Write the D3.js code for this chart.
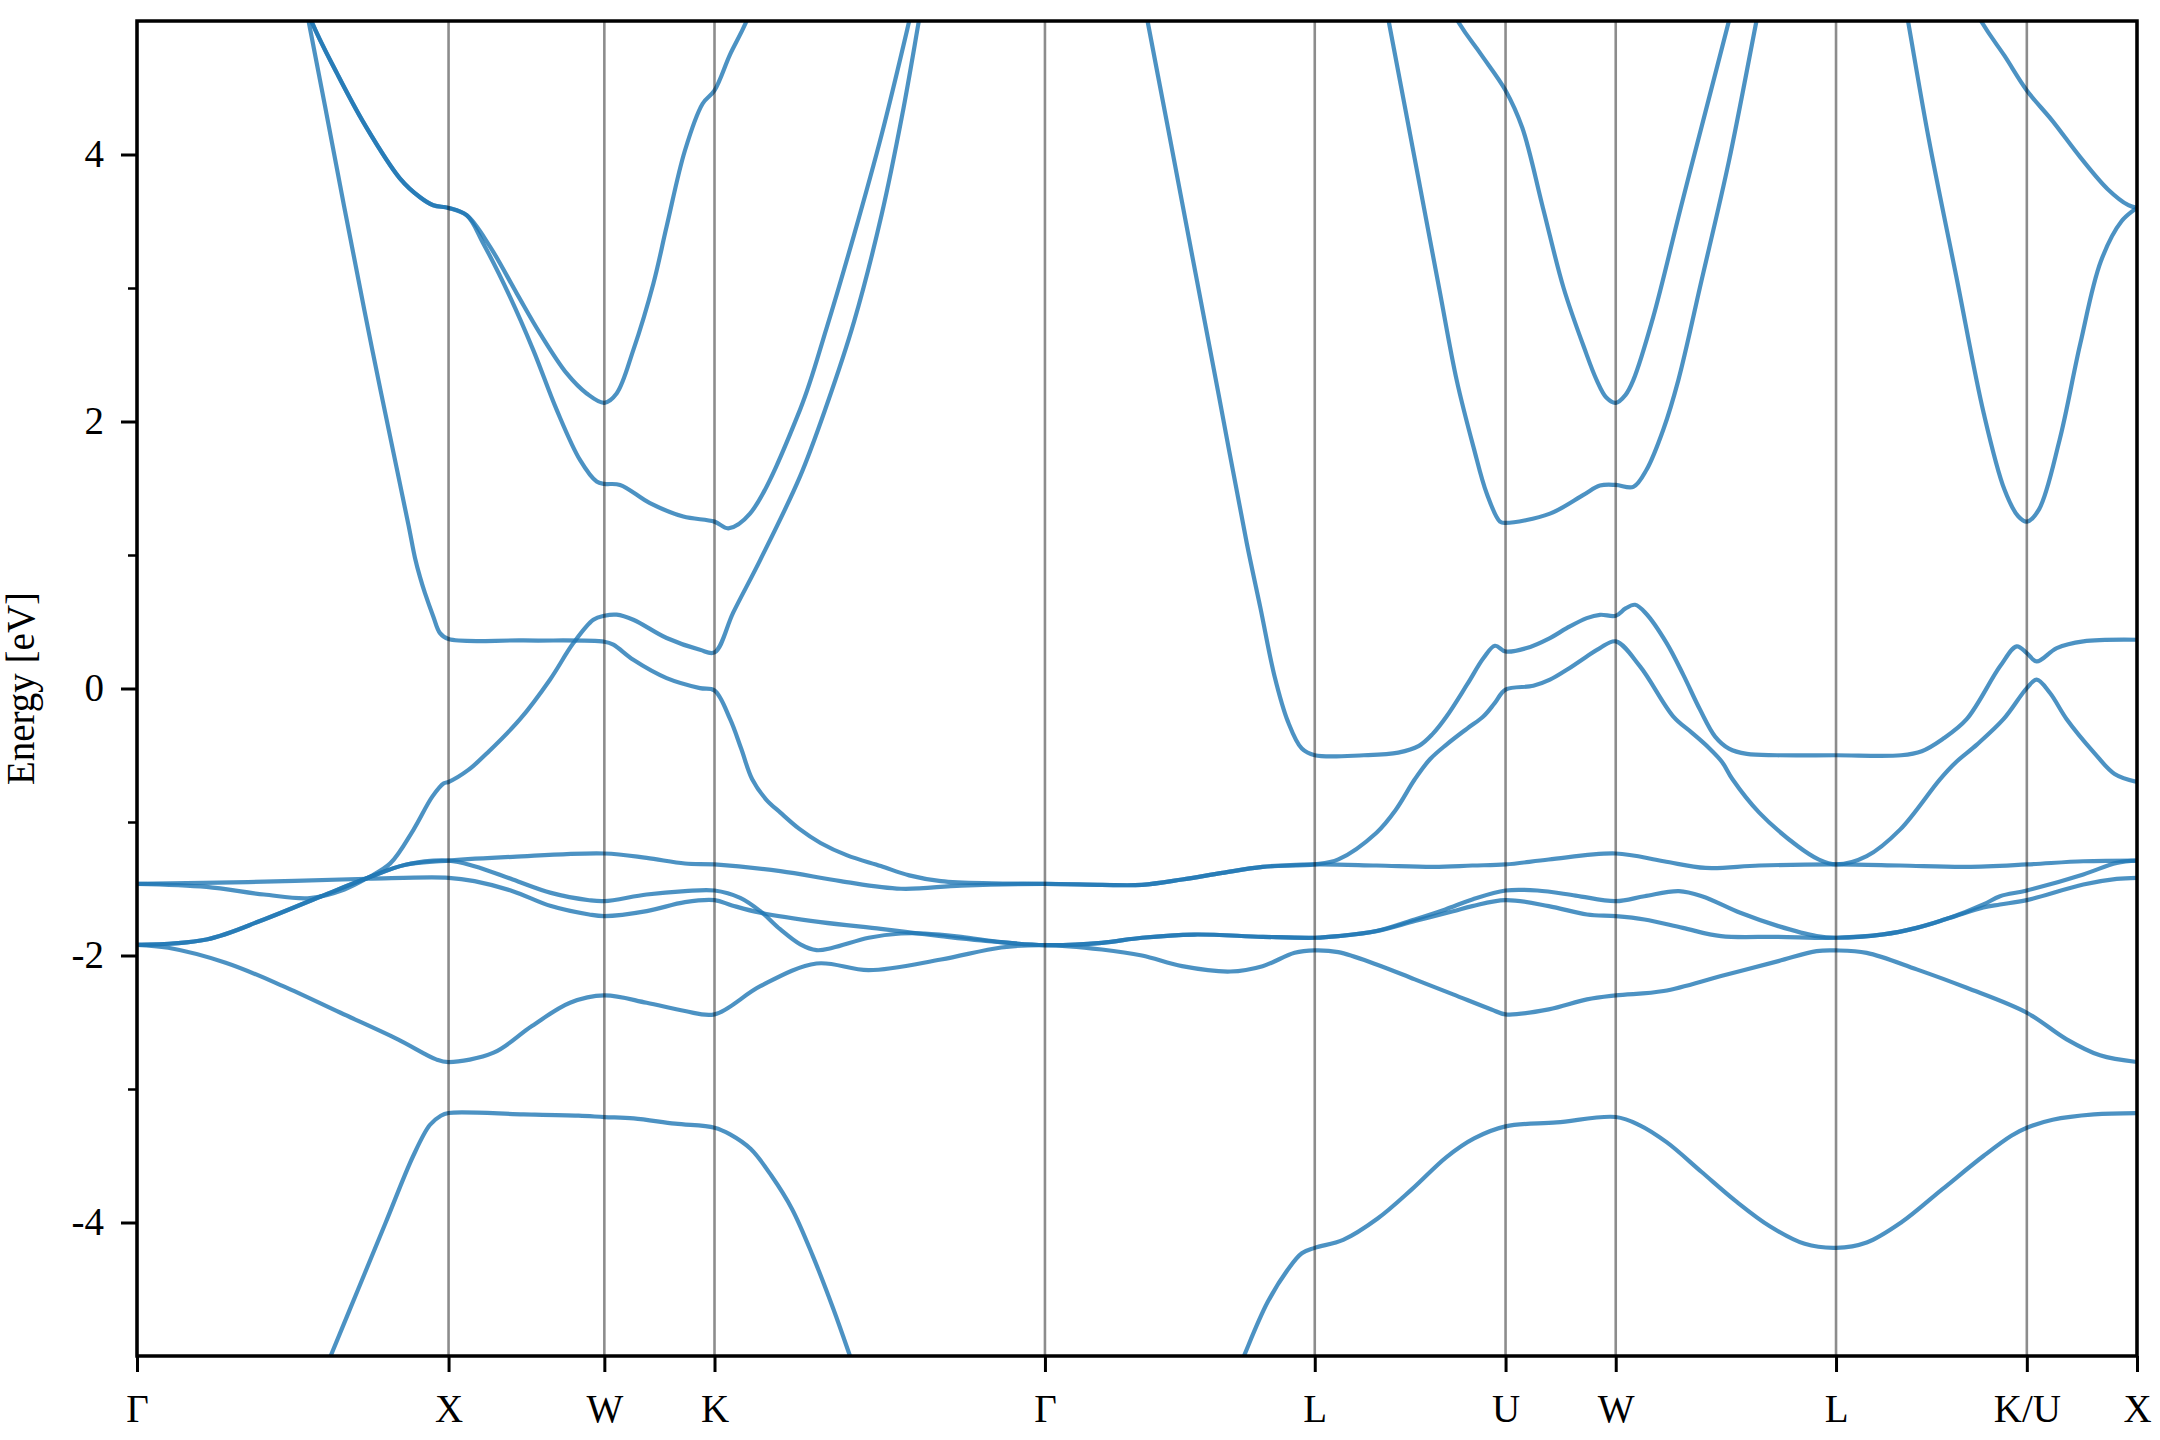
<!DOCTYPE html>
<html><head><meta charset="utf-8">
<script src="https://cdn.jsdelivr.net/npm/d3@7"></script>
<style>body{margin:0;background:#fff}</style>
</head><body>
<svg id="chart" width="2160" height="1440"></svg>
<script>
// High-symmetry points along the FCC k-path (units of 2π/a)
const kTicks = [0, 1.0, 1.5, 1.8536, 2.9142, 3.7802, 4.3926, 4.7462, 5.4533, 6.0657, 6.4193];
const kLabels = ["Γ", "X", "W", "K", "Γ", "L", "U", "W", "L", "K/U", "X"];
const yMajor = [-4, -2, 0, 2, 4];
const yMajorLabels = ["-4", "-2", "0", "2", "4"];
const yMinor = [-3, -1, 1, 3];

// Bands: [k, E (eV)]
const band1 = [[0,-7.8],[0.2235,-7.2],[0.4446,-6.0],[0.6215,-5.0],[0.7099,-4.5],[0.7983,-4.0],[0.8868,-3.5],[0.9398,-3.27],[0.9752,-3.2],[1.0,-3.18],
 [1.2405,-3.19],[1.4174,-3.2],[1.5,-3.21],[1.5943,-3.22],[1.7269,-3.26],[1.8536,-3.29],
 [1.9037,-3.34],[1.9701,-3.45],[2.0364,-3.65],[2.1027,-3.9],[2.1690,-4.25],[2.2354,-4.65],[2.2884,-5.0],[2.3901,-5.7],[2.6555,-7.0],[2.9142,-7.6],
 [3.1860,-6.8],[3.4513,-5.6],[3.5530,-5.0],[3.6282,-4.6],[3.6945,-4.35],[3.7387,-4.23],[3.7802,-4.19],
 [3.8714,-4.13],[3.9820,-3.97],[4.0925,-3.75],[4.2030,-3.51],[4.2917,-3.37],[4.3926,-3.28],
 [4.5568,-3.25],[4.7462,-3.21],
 [4.8220,-3.27],[4.9105,-3.4],[5.0210,-3.62],[5.1316,-3.84],[5.2421,-4.03],[5.3527,-4.16],[5.4533,-4.19],
 [5.5517,-4.15],[5.6622,-4.0],[5.7948,-3.75],[5.9275,-3.5],[6.0159,-3.35],[6.0657,-3.29],
 [6.1485,-3.23],[6.2812,-3.19],[6.4193,-3.18]];

const band2 = [[0,-1.92],[0.1002,-1.942],[0.2845,-2.054],[0.4689,-2.229],[0.6533,-2.429],[0.8372,-2.628],[0.9602,-2.778],[1.0,-2.798],
 [1.1446,-2.728],[1.2675,-2.528],[1.3899,-2.354],[1.5,-2.299],
 [1.6358,-2.354],[1.7587,-2.416],[1.8536,-2.441],
 [2.0006,-2.23],[2.1810,-2.06],[2.3486,-2.11],[2.5807,-2.03],[2.7739,-1.94],[2.9142,-1.922],
 [3.0967,-1.955],[3.2254,-2.0],[3.3545,-2.08],[3.5093,-2.12],[3.6127,-2.08],[3.7157,-1.98],[3.7802,-1.962],
 [3.8555,-1.975],[3.9784,-2.067],[4.1013,-2.179],[4.2242,-2.291],[4.3471,-2.404],[4.3926,-2.441],
 [4.5312,-2.404],[4.6540,-2.329],[4.7462,-2.299],
 [4.8999,-2.266],[5.0842,-2.154],[5.2682,-2.042],[5.3911,-1.967],[5.4533,-1.962],
 [5.5517,-1.98],[5.7122,-2.104],[5.8726,-2.242],[6.0657,-2.429],
 [6.1936,-2.628],[6.3006,-2.748],[6.4193,-2.798]];

const band3 = [[0,-1.92],[0.2231,-1.88],[0.4075,-1.73],[0.5918,-1.556],[0.7391,-1.42],[0.8620,-1.32],[1.0,-1.289],
 [1.2060,-1.261],[1.5,-1.236],
 [1.6358,-1.269],[1.7587,-1.311],[1.8536,-1.318],
 [2.0651,-1.368],[2.2584,-1.443],[2.4520,-1.5],[2.6453,-1.476],[2.9142,-1.463],
 [3.0967,-1.471],[3.2254,-1.471],[3.3545,-1.431],[3.4836,-1.381],[3.6127,-1.336],[3.7802,-1.318],
 [3.9784,-1.326],[4.1628,-1.336],[4.2860,-1.326],[4.3926,-1.318],
 [4.5312,-1.281],[4.7462,-1.236],
 [4.8999,-1.294],[5.0347,-1.344],[5.2072,-1.326],[5.4533,-1.318],
 [5.6587,-1.326],[5.8726,-1.336],[6.0657,-1.318],
 [6.2471,-1.294],[6.4193,-1.289]];

const band4 = [[0,-1.92],[0.2231,-1.88],[0.4075,-1.73],[0.5918,-1.556],[0.7391,-1.42],[0.8620,-1.32],[1.0,-1.289],
 [1.0831,-1.331],[1.2060,-1.431],[1.3289,-1.531],[1.4514,-1.586],[1.5,-1.593],
 [1.6358,-1.543],[1.7587,-1.518],[1.8536,-1.513],
 [1.9360,-1.568],[2.0006,-1.668],[2.0651,-1.805],[2.1292,-1.917],[2.1810,-1.96],[2.2327,-1.942],[2.3486,-1.867],[2.4520,-1.835],[2.5290,-1.835],[2.6453,-1.86],[2.7739,-1.90],[2.9142,-1.922],
 [3.0967,-1.905],[3.2254,-1.867],[3.3934,-1.843],[3.6127,-1.86],[3.7802,-1.867],
 [3.8555,-1.855],[3.9784,-1.817],[4.1013,-1.73],[4.1995,-1.655],[4.2860,-1.58],[4.3926,-1.513],
 [4.4945,-1.513],[4.6174,-1.551],[4.7462,-1.593],
 [4.8384,-1.556],[4.9489,-1.518],[5.0228,-1.556],[5.1458,-1.68],[5.2682,-1.78],[5.3911,-1.855],[5.4533,-1.867],
 [5.6052,-1.842],[5.7122,-1.793],[5.8191,-1.718],[5.9262,-1.618],[5.9797,-1.556],[6.0657,-1.513],
 [6.2471,-1.393],[6.3541,-1.306],[6.4193,-1.289]];

const band5 = [[0,-1.463],[0.3562,-1.45],[0.7391,-1.425],[1.0,-1.418],
 [1.0831,-1.443],[1.2060,-1.518],[1.3289,-1.63],[1.4514,-1.693],[1.5,-1.705],
 [1.6358,-1.668],[1.7587,-1.6],[1.8536,-1.585],
 [1.9099,-1.625],[2.0006,-1.68],[2.1938,-1.75],[2.3875,-1.80],[2.4905,-1.83],[2.5807,-1.855],[2.7098,-1.887],[2.9142,-1.922],
 [3.0967,-1.905],[3.2254,-1.867],[3.3934,-1.843],[3.6127,-1.86],[3.7802,-1.867],
 [3.8555,-1.855],[3.9784,-1.817],[4.1013,-1.742],[4.2242,-1.668],[4.2860,-1.63],[4.3926,-1.585],
 [4.5312,-1.63],[4.6540,-1.693],[4.7462,-1.705],
 [4.8384,-1.73],[4.9613,-1.793],[5.0843,-1.855],[5.2682,-1.86],[5.4533,-1.867],
 [5.6052,-1.842],[5.7122,-1.793],[5.8191,-1.718],[5.9262,-1.64],[5.9797,-1.618],[6.0657,-1.585],
 [6.2471,-1.468],[6.3541,-1.426],[6.4193,-1.418]];

const band6 = [[0,-1.463],[0.2231,-1.486],[0.4075,-1.543],[0.5551,-1.57],[0.6657,-1.505],[0.7391,-1.42],[0.8129,-1.31],[0.8868,-1.06],[0.9478,-0.81],[0.9849,-0.71],[1.0,-0.70],
 [1.0636,-0.61],[1.1299,-0.47],[1.2294,-0.23],[1.3254,0.066],[1.4006,0.34],[1.4647,0.515],[1.5,0.545],
 [1.5394,0.553],[1.5929,0.515],[1.6999,0.378],[1.8069,0.29],[1.8536,0.27],
 [1.9139,0.57],[1.9997,0.96],[2.1279,1.587],[2.2133,2.12],[2.3017,2.75],[2.3901,3.55],[2.4564,4.3],[2.5095,5.0],[2.55,5.55],[2.6555,6.4],[2.9142,7.5],
 [3.1639,6.0],[3.2435,5.0],[3.3098,4.19],[3.3894,3.21],[3.4734,2.18],[3.5619,1.09],[3.6061,0.6],[3.6503,0.1],[3.6945,-0.25],[3.7387,-0.45],[3.7802,-0.5],
 [3.9377,-0.5],[4.0483,-0.48],[4.1146,-0.43],[4.1588,-0.34],[4.2030,-0.21],[4.2693,0.03],[4.3224,0.23],[4.3586,0.32],[4.3926,0.277],
 [4.4604,0.303],[4.5351,0.378],[4.5891,0.452],[4.6532,0.527],[4.6956,0.552],[4.7462,0.545],
 [4.7778,0.6],[4.8083,0.627],[4.8441,0.56],[4.9096,0.34],[4.9635,0.1],[5.0166,-0.158],[5.0652,-0.36],[5.1095,-0.45],[5.1670,-0.49],[5.2642,-0.5],[5.4533,-0.5],
 [5.6622,-0.5],[5.7285,-0.47],[5.7948,-0.38],[5.8726,-0.23],[5.9797,0.166],[6.0332,0.315],[6.0657,0.265],[6.0972,0.203],[6.1618,0.303],[6.2471,0.353],[6.4193,0.365]];

const band7 = [[0.4446,6.2],[0.5507,5.0],[0.6657,3.6],[0.7541,2.55],[0.8425,1.55],[0.8735,1.2],[0.8921,0.98],[0.9089,0.83],[0.9243,0.714],[0.9509,0.54],[0.9725,0.415],[1.0,0.37],
 [1.2405,0.36],[1.5,0.35],[1.5288,0.328],[1.5929,0.215],[1.6999,0.078],[1.8069,0.003],[1.8536,-0.015],
 [1.9037,-0.23],[1.9391,-0.45],[1.9745,-0.68],[2.0187,-0.83],[2.0651,-0.93],[2.1248,-1.05],[2.1938,-1.157],[2.2796,-1.25],[2.3875,-1.33],[2.4786,-1.4],[2.5803,-1.443],[2.7439,-1.46],[2.9142,-1.463],
 [3.0967,-1.471],[3.2254,-1.471],[3.3545,-1.431],[3.4836,-1.381],[3.6127,-1.336],[3.7802,-1.318],
 [3.8560,-1.28],[3.9784,-1.08],[4.0399,-0.91],[4.1013,-0.68],[4.1500,-0.53],[4.2030,-0.42],[4.2693,-0.3],[4.3211,-0.21],[4.3577,-0.11],[4.3926,-0.009],
 [4.4816,0.02],[4.5351,0.066],[4.5891,0.14],[4.6532,0.24],[4.6956,0.303],[4.7462,0.353],
 [4.8242,0.166],[4.9312,-0.21],[4.9901,-0.33],[5.0431,-0.44],[5.0874,-0.55],[5.1210,-0.68],[5.2068,-0.93],[5.3297,-1.18],[5.3969,-1.28],[5.4533,-1.318],
 [5.5517,-1.256],[5.6587,-1.057],[5.7869,-0.68],[5.8390,-0.55],[5.9054,-0.42],[5.9907,-0.23],[6.0657,0.003],[6.0972,0.066],[6.1401,-0.034],[6.1936,-0.23],[6.2812,-0.48],[6.3475,-0.64],[6.4193,-0.70]];

const band8 = [[0.4667,5.6],[0.5596,5.0],[0.6436,4.6],[0.7320,4.22],[0.8443,3.82],[0.9084,3.68],[0.9509,3.62],[1.0,3.6],
 [1.0583,3.545],[1.1114,3.334],[1.1972,2.934],[1.2719,2.535],[1.3471,2.087],[1.4218,1.712],[1.4753,1.55],[1.5,1.533],
 [1.5505,1.525],[1.6464,1.388],[1.7534,1.288],[1.8536,1.25],
 [1.8980,1.20],[1.9674,1.31],[2.1279,2.087],[2.2133,2.7],[2.3017,3.4],[2.3901,4.15],[2.4786,5.0],[2.6555,6.8],[2.9142,8.0],[3.5398,7.0],[3.9600,5.7],[4.0174,5.0],[4.1146,3.8],[4.1809,2.98],[4.2357,2.31],[4.2895,1.81],[4.3322,1.46],[4.3746,1.25],[4.3926,1.24],
 [4.5351,1.31],[4.6425,1.45],[4.6956,1.52],[4.7462,1.525],
 [4.8026,1.51],[4.8455,1.64],[4.8990,1.94],[4.9472,2.31],[5.0210,3.05],[5.1095,3.95],[5.1979,5.0],[5.2400,5.5],[5.4533,7.0],[5.6450,5.52],[5.6843,5.0],[5.7506,4.12],[5.8390,3.09],[5.9275,2.06],[5.9938,1.49],[6.0380,1.29],[6.0657,1.25],
 [6.1043,1.34],[6.1706,1.86],[6.2370,2.58],[6.3033,3.2],[6.3696,3.5],[6.4193,3.6]];

const band9 = [[0.4667,5.6],[0.5596,5.0],[0.6436,4.6],[0.7320,4.22],[0.8443,3.82],[0.9084,3.68],[0.9509,3.62],[1.0,3.6],
 [1.0583,3.545],[1.1330,3.31],[1.2188,2.96],[1.2935,2.66],[1.3793,2.36],[1.4434,2.21],[1.5,2.14],
 [1.5394,2.21],[1.5929,2.535],[1.6575,3.034],[1.6999,3.46],[1.7587,4.03],[1.8153,4.38],[1.8536,4.48],
 [1.9037,4.75],[1.9568,5.0],[2.2133,6.5],[2.9142,9.0],[3.7802,7.0],[4.2388,5.0],[4.3138,4.75],[4.3926,4.48],
 [4.4463,4.2],[4.5126,3.6],[4.5789,3.0],[4.6452,2.55],[4.6850,2.31],[4.7159,2.18],[4.7462,2.14],
 [4.7778,2.2],[4.8026,2.31],[4.8662,2.78],[4.9547,3.6],[5.0431,4.4],[5.1095,5.0],[5.1500,5.37],[5.4533,7.0],[5.9186,5.0],[5.9938,4.74],[6.0657,4.48],
 [6.1485,4.25],[6.2370,3.98],[6.3254,3.74],[6.3917,3.62],[6.4193,3.6]];

const bands = [band1, band2, band3, band4, band5, band6, band7, band8, band9];

(function draw() {
  const svg = d3.select("#chart");
  const pL = 137, pR = 2137, pT = 21, pB = 1356;
  const x = d3.scaleLinear().domain([kTicks[0], kTicks[kTicks.length - 1]]).range([pL, pR]);
  const y = d3.scaleLinear().domain([-5, 5]).range([pB, pT]);
  const FONT = "'Liberation Serif','Times New Roman',serif";

  svg.append("defs").append("clipPath").attr("id", "clip")
    .append("rect").attr("x", pL).attr("y", pT).attr("width", pR - pL).attr("height", pB - pT);

  const line = d3.line().x(d => x(d[0])).y(d => y(d[1])).curve(d3.curveCatmullRom.alpha(0.5));

  svg.append("g").attr("clip-path", "url(#clip)")
    .selectAll("path").data(bands).join("path")
    .attr("d", line)
    .attr("fill", "none")
    .attr("stroke", "#1f77b4")
    .attr("stroke-opacity", 0.8)
    .attr("stroke-width", 4.2)
    .attr("stroke-linejoin", "round");

  // vertical high-symmetry lines
  svg.append("g").selectAll("line").data(kTicks).join("line")
    .attr("x1", d => x(d)).attr("x2", d => x(d))
    .attr("y1", pT).attr("y2", pB)
    .attr("stroke", "#000").attr("stroke-opacity", 0.45).attr("stroke-width", 2.6);

  // bottom axis
  const xAxis = d3.axisBottom(x).tickValues(kTicks).tickFormat((d, i) => kLabels[i])
    .tickSize(16).tickPadding(22);
  const gx = svg.append("g").attr("transform", `translate(0,${pB})`).call(xAxis);
  gx.select(".domain").remove();
  gx.selectAll(".tick line").attr("stroke", "#000").attr("stroke-width", 3);
  gx.selectAll(".tick text").attr("font-family", FONT).attr("font-size", 39).attr("fill", "#000");

  // left axis (major + minor)
  const yAxis = d3.axisLeft(y).tickValues(yMajor).tickFormat((d, i) => yMajorLabels[i])
    .tickSize(16).tickPadding(17);
  const gy = svg.append("g").attr("transform", `translate(${pL},0)`).call(yAxis);
  gy.select(".domain").remove();
  gy.selectAll(".tick line").attr("stroke", "#000").attr("stroke-width", 3);
  gy.selectAll(".tick text").attr("font-family", FONT).attr("font-size", 39).attr("fill", "#000");

  const yMinorAxis = d3.axisLeft(y).tickValues(yMinor).tickFormat("").tickSize(9);
  const gym = svg.append("g").attr("transform", `translate(${pL},0)`).call(yMinorAxis);
  gym.select(".domain").remove();
  gym.selectAll(".tick line").attr("stroke", "#000").attr("stroke-width", 2.5);

  // frame
  svg.append("rect").attr("x", pL).attr("y", pT).attr("width", pR - pL).attr("height", pB - pT)
    .attr("fill", "none").attr("stroke", "#000").attr("stroke-width", 3.5);

  // y label
  svg.append("text")
    .attr("transform", `translate(34,${(pT + pB) / 2}) rotate(-90)`)
    .attr("text-anchor", "middle")
    .attr("font-family", FONT).attr("font-size", 39).attr("fill", "#000")
    .text("Energy [eV]");
})();
</script>
</body></html>
